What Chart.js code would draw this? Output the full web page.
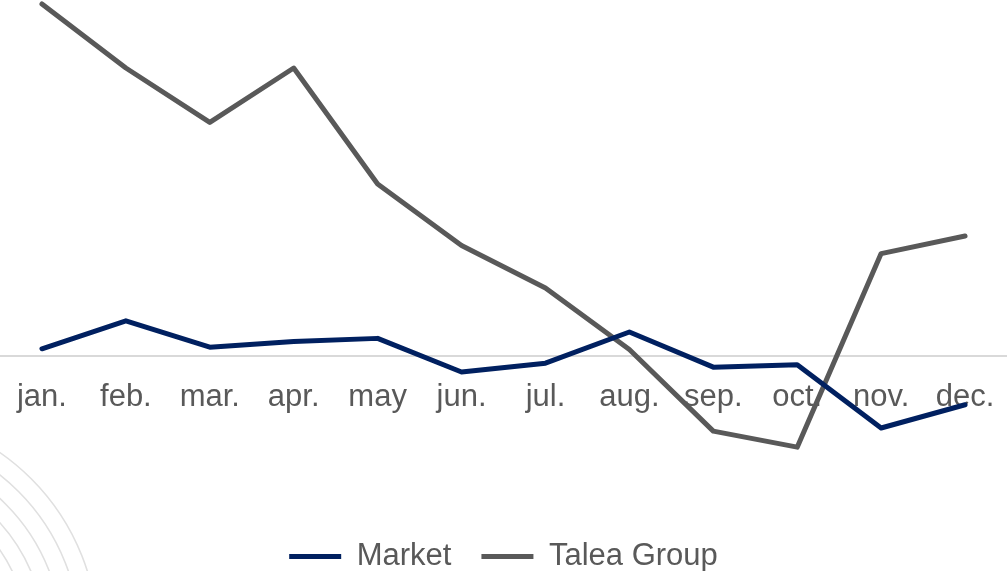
<!DOCTYPE html>
<html>
<head>
<meta charset="utf-8">
<script src="https://cdn.jsdelivr.net/npm/chart.js@4/dist/chart.umd.min.js"></script>
<style>
  html, body { margin: 0; padding: 0; background: #fff; }
  #wrap { width: 1007px; height: 571px; position: relative; }
</style>
</head>
<body>
<div id="wrap"><canvas id="lineChart"></canvas></div>
<script>
const months = ["jan.", "feb.", "mar.", "apr.", "may", "jun.", "jul.", "aug.", "sep.", "oct.", "nov.", "dec."];
const marketValues = [0.45, 2.2, 0.55, 0.9, 1.1, -1.0, -0.45, 1.5, -0.7, -0.55, -4.5, -3.05];
const taleaValues = [22.0, 18.0, 14.6, 18.0, 10.75, 6.9, 4.25, 0.4, -4.7, -5.7, 6.4, 7.5];

const navy = '#002060';
const grey = '#595959';

// faint arcs in the lower left corner behind the plot
const cornerArcs = {
  id: 'cornerArcs',
  beforeDraw(chart) {
    const {ctx} = chart;
    ctx.save();
    ctx.strokeStyle = '#e0e0e0';
    ctx.lineWidth = 1.6;
    [228, 210, 192, 175, 158].forEach(r => {
      ctx.beginPath();
      ctx.arc(-130, 640, r, -Math.PI / 2, 0);
      ctx.stroke();
    });
    ctx.restore();
  }
};

const lineOpts = {
  borderWidth: 5,
  pointRadius: 0,
  pointHoverRadius: 0,
  tension: 0,
  borderJoinStyle: 'round',
  borderCapStyle: 'round',
  fill: false,
  clip: false
};

new Chart('lineChart', {
  type: 'line',
  data: {
    labels: months,
    datasets: [
      Object.assign({label: 'Market', data: marketValues, borderColor: navy, backgroundColor: navy}, lineOpts),
      Object.assign({label: 'Talea Group', data: taleaValues, borderColor: grey, backgroundColor: grey}, lineOpts)
    ]
  },
  options: {
    responsive: true,
    maintainAspectRatio: false,
    animation: false,
    layout: { autoPadding: false, padding: { top: 0, left: 0, right: 0, bottom: -11 } },
    scales: {
      x: {
        position: { y: 0 },
        offset: true,
        // invisible tick marks push the month names below the zero line
        grid: { display: true, color: 'rgba(0,0,0,0)', drawOnChartArea: false, drawTicks: true, tickLength: 23 },
        border: { display: true, color: '#d9d9d9', width: 2 },
        ticks: {
          color: grey,
          padding: 0,
          maxRotation: 0,
          autoSkip: false,
          font: { family: '"Liberation Sans", Arial, sans-serif', size: 31 }
        }
      },
      y: {
        display: false,
        min: -9.69,
        max: 22.25
      }
    },
    plugins: {
      legend: {
        position: 'bottom',
        labels: {
          usePointStyle: true,
          pointStyle: 'line',
          pointStyleWidth: 52,
          boxHeight: 30,
          padding: 30,
          color: grey,
          font: { family: '"Liberation Sans", Arial, sans-serif', size: 31 }
        }
      },
      tooltip: { enabled: false }
    }
  },
  plugins: [cornerArcs]
});
</script>
</body>
</html>
